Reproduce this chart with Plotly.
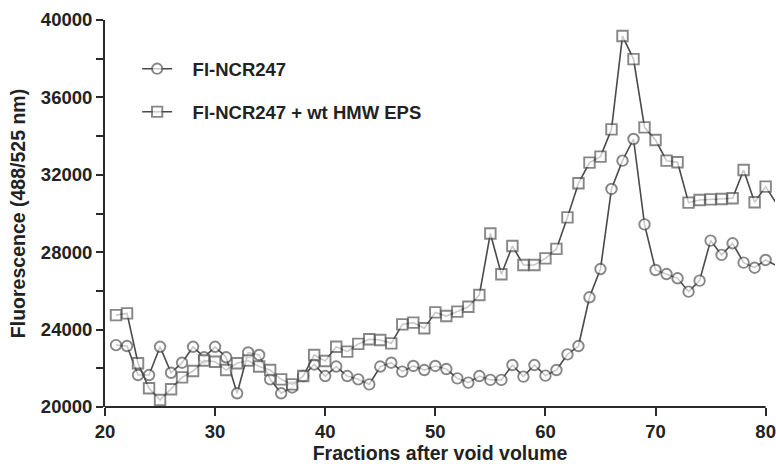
import plotly.graph_objects as go

fractions = list(range(21, 82))

ncr247 = [23200, 23150, 21650, 21650, 23110, 21770, 22290, 23110, 22570, 23110,
          22570, 20710, 22820, 22690, 21430, 20710, 21010, 21600, 22200, 21600,
          22090, 21600, 21430, 21170, 22090, 22290, 21830, 22120, 21910, 22120,
          21960, 21480, 21260, 21600, 21400, 21400, 22170, 21570, 22170, 21620,
          21910, 22720, 23150, 25670, 27130, 31270, 32730, 33850, 29440, 27080,
          26870, 26650, 25960, 26530, 28600, 27860, 28460, 27460, 27200, 27600,
          27300]

ncr247_eps = [24750, 24840, 22260, 20970, 20360, 20920, 21530, 21860, 22400, 22340,
              21910, 22260, 22400, 22090, 21910, 21430, 21170, 21600, 22690, 22380,
              23110, 22860, 23260, 23500, 23460, 23290, 24270, 24360, 24070, 24890,
              24700, 24930, 25180, 25790, 28970, 26860, 28320, 27340, 27340, 27680,
              28170, 29800, 31560, 32630, 32940, 34350, 39170, 37980, 34450, 33800,
              32730, 32650, 30560, 30700, 30730, 30750, 30790, 32250, 30580, 31390,
              30500]

name1 = "Fl-NCR247"
name2 = "Fl-NCR247 + wt HMW EPS"

x_ticks = [20, 30, 40, 50, 60, 70, 80]
y_ticks = [20000, 24000, 28000, 32000, 36000, 40000]
y_tick_labels = ["20000", "24000", "28000", "32000", "36000", "40000"]

FONT = "Liberation Sans, Arial, sans-serif"
TXT = "#222222"
LINE = "#4a4a4a"
MK = "#555555"
AX = "#2a2a2a"

sizes = [10.5] * (len(fractions) - 1) + [0]

fig = go.Figure()
fig.add_trace(go.Scatter(
    x=fractions, y=ncr247, mode="lines+markers",
    name="\u00a0\u00a0\u00a0" + name1, legendgroup="a",
    line=dict(color=LINE, width=1.6),
    marker=dict(symbol="circle", size=sizes, color="white",
                line=dict(color=MK, width=1.9)),
))
fig.add_trace(go.Scatter(
    x=fractions, y=ncr247_eps, mode="lines+markers",
    name="\u00a0\u00a0\u00a0" + name2, legendgroup="b",
    line=dict(color=LINE, width=1.6),
    marker=dict(symbol="square", size=sizes, color="white",
                line=dict(color=MK, width=1.9)),
))

fig.add_shape(type="line", xref="x", yref="paper", x0=20, x1=80, y0=0, y1=0,
              line=dict(color=AX, width=2), layer="above")
fig.add_shape(type="line", xref="paper", yref="paper", x0=-0.0015, x1=-0.0015,
              y0=0, y1=1, line=dict(color=AX, width=2), layer="above")

fig.update_layout(
    width=776, height=464,
    margin=dict(l=105, r=1, t=20, b=57),
    paper_bgcolor="white", plot_bgcolor="white",
    font=dict(family=FONT, color=TXT, size=18, weight="bold"),
    showlegend=True,
    legend=dict(x=0.048, y=0.922, xanchor="left", yanchor="top",
                bgcolor="rgba(0,0,0,0)", traceorder="grouped",
                tracegroupgap=16, itemwidth=30,
                font=dict(family=FONT, size=18.5, color=TXT, weight="bold")),
    xaxis=dict(
        range=[20, 80.85], tickvals=x_ticks, ticks="outside", ticklen=8,
        tickwidth=2, tickcolor=AX, showline=False, showgrid=False,
        zeroline=False, tickfont=dict(family=FONT, size=18.5, color=TXT, weight="bold"),
        title=dict(text="Fractions after void volume", standoff=6,
                   font=dict(family=FONT, size=19.5, color=TXT, weight="bold")),
        automargin=False,
    ),
    yaxis=dict(
        range=[20000, 40000], tickvals=y_ticks, ticktext=y_tick_labels,
        ticks="outside", ticklen=7,
        tickwidth=2, tickcolor=AX, showline=True, linecolor=AX, linewidth=2,
        showgrid=False, zeroline=False,
        minor=dict(dtick=2000, ticks="outside", ticklen=7, tickwidth=2,
                   tickcolor=AX, showgrid=False),
        tickfont=dict(family=FONT, size=18.5, color=TXT, weight="bold"),
        title=dict(text="Fluorescence (488/525 nm)", standoff=10,
                   font=dict(family=FONT, size=19.5, color=TXT, weight="bold")),
        automargin=False,
    ),
)

fig.write_html("out.html")
